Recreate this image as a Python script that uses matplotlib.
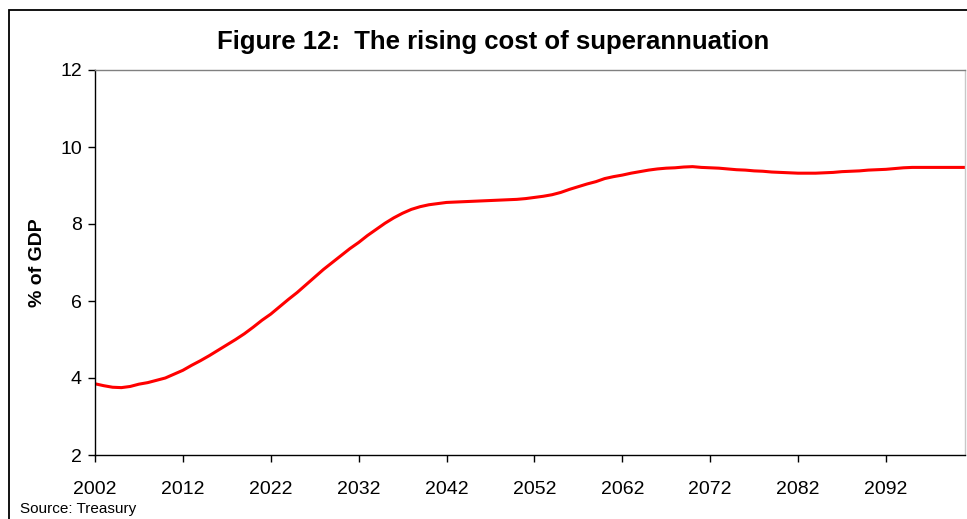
import numpy as np
import matplotlib.pyplot as plt
from matplotlib.patches import Rectangle

plt.rcParams['font.family'] = ['Liberation Sans', 'DejaVu Sans']

# --- data ---
years = list(range(2002, 2102))
pct_gdp = [
    3.85, 3.80, 3.76, 3.75, 3.78, 3.84, 3.88, 3.94, 4.00, 4.10,   # 2002-2011
    4.20, 4.33, 4.45, 4.58, 4.72, 4.86, 5.00, 5.15, 5.32, 5.50,   # 2012-2021
    5.66, 5.85, 6.04, 6.22, 6.42, 6.62, 6.82, 7.00, 7.18, 7.36,   # 2022-2031
    7.52, 7.70, 7.86, 8.02, 8.16, 8.28, 8.38, 8.45, 8.50, 8.53,   # 2032-2041
    8.56, 8.57, 8.58, 8.59, 8.60, 8.61, 8.62, 8.63, 8.64, 8.66,   # 2042-2051
    8.69, 8.72, 8.76, 8.82, 8.90, 8.97, 9.04, 9.10, 9.18, 9.23,   # 2052-2061
    9.27, 9.32, 9.36, 9.40, 9.43, 9.45, 9.46, 9.48, 9.49, 9.47,   # 2062-2071
    9.46, 9.45, 9.43, 9.41, 9.40, 9.38, 9.37, 9.35, 9.34, 9.33,   # 2072-2081
    9.32, 9.32, 9.32, 9.33, 9.34, 9.36, 9.37, 9.38, 9.40, 9.41,   # 2082-2091
    9.42, 9.44, 9.46, 9.47, 9.47, 9.47, 9.47, 9.47, 9.47, 9.47,   # 2092-2101
]
x_ticks = list(range(2002, 2101, 10))
y_ticks = [2, 4, 6, 8, 10, 12]

# --- figure ---
fig = plt.figure(figsize=(9.67, 5.19), dpi=100)
ax = fig.add_axes([95 / 967, 1 - 455 / 519, 870 / 967, 385 / 519])

ax.plot(years, pct_gdp, color='#ff0000', lw=2.2)

ax.set_xlim(2002, 2101)
ax.set_ylim(2, 12)
ax.set_xticks(x_ticks)
ax.set_yticks(y_ticks)
ax.tick_params(axis='y', direction='out', length=5, width=1, pad=4.5, labelsize=14)
ax.tick_params(axis='x', direction='out', length=5, width=1, pad=14, labelsize=14)

ax.spines['left'].set_color('black')
ax.spines['bottom'].set_color('black')
ax.spines['top'].set_color('#808080')
ax.spines['right'].set_color('#c8c8c8')
for s in ax.spines.values():
    s.set_linewidth(1.0)

ax.set_ylabel('% of GDP', fontsize=14, fontweight='bold', labelpad=10)

fig.text(493 / 967, 1 - 42 / 519, 'Figure 12:  The rising cost of superannuation',
         ha='center', va='center', fontsize=18.5, fontweight='bold')
fig.text(20 / 967, 1 - 509 / 519, 'Source: Treasury', ha='left', va='center', fontsize=11)

# outer frame
fig.patches.append(Rectangle((9 / 967, -0.05), 1.2, 1.05 - 10 / 519, transform=fig.transFigure,
                             fill=False, edgecolor='black', lw=1.3))

fig.savefig('out.png', dpi=100)
